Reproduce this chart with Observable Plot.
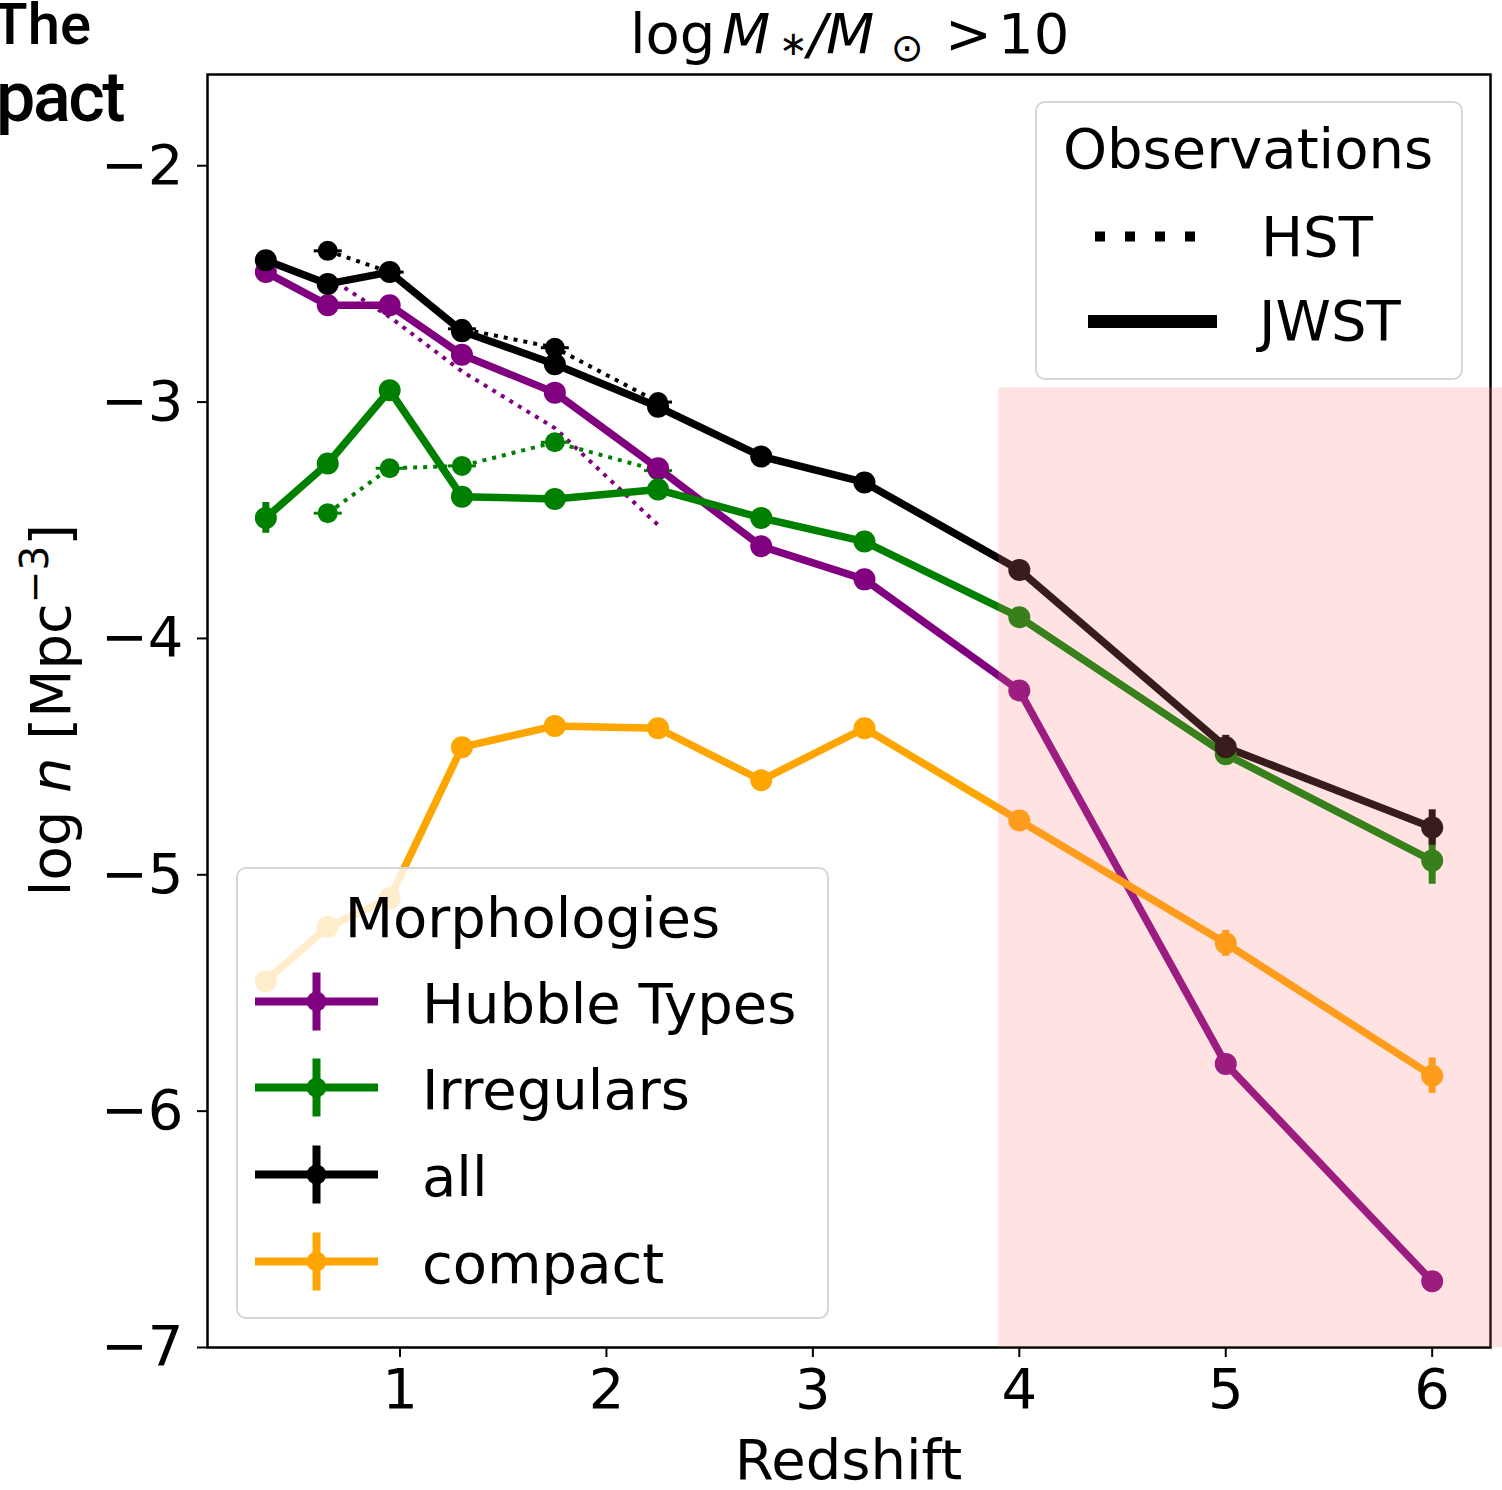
<!DOCTYPE html>
<html><head><meta charset="utf-8">
<script src="https://cdn.jsdelivr.net/npm/d3@7"></script>
<script src="https://cdn.jsdelivr.net/npm/@observablehq/plot@0.6"></script>
<style>
body{margin:0;background:#fff;overflow:hidden}
#wrap{position:relative;width:1502px;height:1490px;overflow:hidden;background:#fff}
#wrap>svg{position:absolute;left:0;top:0}
</style></head><body><div id="wrap"></div>
<script>
// ---- data ----
const redshift = [0.35, 0.65, 0.95, 1.3, 1.75, 2.25, 2.75, 3.25, 4, 5, 6];
const hubbleJWST  = [-2.45, -2.59, -2.59, -2.80, -2.96, -3.28, -3.61, -3.75, -4.22, -5.80, -6.72];
const irregJWST   = [-3.49, -3.26, -2.95, -3.40, -3.41, -3.37, -3.49, -3.59, -3.91, -4.49, -4.94];
const allJWST     = [-2.40, -2.50, -2.45, -2.70, -2.84, -3.02, -3.23, -3.34, -3.71, -4.46, -4.80];
const compactJWST = [-5.45, -5.22, -5.10, -4.46, -4.37, -4.38, -4.60, -4.38, -4.77, -5.29, -5.85];
const hubbleErr  = [0.01, 0.01, 0.01, 0.01, 0.01, 0.01, 0.01, 0.01, 0.02, 0.03, 0.03];
const irregErr   = [0.065, 0.02, 0.02, 0.01, 0.01, 0.01, 0.01, 0.01, 0.02, 0.03, 0.10];
const allErr     = [0.01, 0.01, 0.03, 0.01, 0.02, 0.01, 0.01, 0.01, 0.02, 0.05, 0.075];
const compactErr = [0.03, 0.03, 0.03, 0.02, 0.02, 0.02, 0.02, 0.02, 0.03, 0.055, 0.075];

const redshiftHST = [0.65, 0.95, 1.3, 1.75, 2.25];
const hubbleHST = [-2.47, -2.64, -2.87, -3.11, -3.52];
const irregHST  = [-3.47, -3.28, -3.27, -3.17, -3.29];
const allHST    = [-2.36, -2.45, -2.69, -2.77, -3.00];

const shadeX = [3.9, 6.4];
const shadeY = [-7, -2.94];

const xTicks = [1, 2, 3, 4, 5, 6];
const yTicks = [-7, -6, -5, -4, -3, -2];

const morphLabels = ["Hubble Types", "Irregulars", "all", "compact"];
const morphColors = ["purple", "green", "black", "orange"];
const obsLabels = ["HST", "JWST"];

// ---- tables ----
const jwstSeries = [hubbleJWST, irregJWST, allJWST, compactJWST];
const jwstErrs = [hubbleErr, irregErr, allErr, compactErr];
const jwst = jwstSeries.flatMap((ys, k) => ys.map((v, i) => ({z: redshift[i], v, e: jwstErrs[k][i], s: morphLabels[k], c: morphColors[k]})));
const hstSeries = [hubbleHST, irregHST, allHST];
const hst = hstSeries.flatMap((ys, k) => ys.map((v, i) => ({z: redshiftHST[i], v, s: morphLabels[k], c: morphColors[k], marker: k > 0})));
const hstMarked = hst.filter(d => d.marker);

const capSymbol = {draw(ctx) { ctx.moveTo(-14, 0); ctx.lineTo(14, 0); }};
const fmt = d3.format("d");

const chart = Plot.plot({
  width: 1502, height: 1490,
  marginLeft: 207, marginRight: 12, marginTop: 74, marginBottom: 143,
  style: {fontFamily: "DejaVu Sans", fontSize: "56px", background: "transparent", color: "black", overflow: "visible"},
  x: {domain: [0.0675, 6.2825]},
  y: {domain: [-7, -1.614]},
  marks: [
    Plot.line(hst, {x: "z", y: "v", z: "s", stroke: "c", strokeWidth: 4, strokeDasharray: "4,6", strokeLinecap: "butt"}),
    Plot.dot(hstMarked, {x: "z", y: "v", r: 10, fill: "c"}),
    Plot.dot(hstMarked, {x: "z", y: "v", symbol: capSymbol, stroke: "c", strokeWidth: 3, r: 10}),
    Plot.line(jwst, {x: "z", y: "v", z: "s", stroke: "c", strokeWidth: 7.5}),
    Plot.ruleX(jwst, {x: "z", y1: d => d.v - d.e, y2: d => d.v + d.e, stroke: "c", strokeWidth: 7}),
    Plot.dot(jwst, {x: "z", y: "v", r: 11, fill: "c"}),
    Plot.frame({stroke: "black", strokeWidth: 2.5}),
    Plot.rect([0], {x1: () => shadeX[0], x2: () => shadeX[1], y1: () => shadeY[0], y2: () => shadeY[1], fill: "#ff8080", fillOpacity: 0.22}),
    Plot.axisX({ticks: xTicks, tickFormat: fmt, tickSize: 10, tickPadding: 11, label: null, strokeWidth: 2}),
    Plot.axisY({ticks: yTicks, tickFormat: fmt, tickSize: 10, tickPadding: 14, label: null, strokeWidth: 2})
  ]
});
const wrap = document.getElementById("wrap");
wrap.appendChild(chart);

// ---- overlay: texts and legends ----
const ov = d3.select(wrap).append("svg")
  .attr("width", 1502).attr("height", 1490)
  .style("font-family", "DejaVu Sans").style("font-size", "56px").style("pointer-events", "none");

// cropped text from neighbouring page column
ov.append("text").attr("x", 91).attr("y", 44).attr("text-anchor", "end")
  .style("font-family", "Roboto").style("font-weight", 500).style("font-size", "58px").text("The");
ov.append("text").attr("x", 123).attr("y", 121).attr("text-anchor", "end")
  .style("font-family", "Roboto").style("font-weight", 500).style("font-size", "70px").style("letter-spacing", "-2.5px").text("Impact");

// title
const t = ov.append("text").attr("y", 53);
t.append("tspan").attr("x", 630).text("log");
t.append("tspan").attr("x", 722).style("font-style", "italic").text("M");
t.append("tspan").attr("x", 779).attr("dy", 2).style("font-size", "34px").text("∗");
t.append("tspan").attr("x", 808).attr("dy", -2).style("font-style", "italic").text("/");
t.append("tspan").attr("x", 826).style("font-style", "italic").text("M");
t.append("tspan").attr("x", 891).attr("dy", 8).style("font-size", "39px").text("⊙");
t.append("tspan").attr("x", 945).attr("dy", -8).text(">");
t.append("tspan").attr("x", 998).text("10");

// x label
ov.append("text").attr("x", 848.5).attr("y", 1479).attr("text-anchor", "middle").text("Redshift");

// y label
const yl = ov.append("text").attr("transform", "translate(70,710) rotate(-90)").attr("text-anchor", "middle");
yl.append("tspan").text("log ");
yl.append("tspan").style("font-style", "italic").text("n");
yl.append("tspan").text(" [Mpc");
yl.append("tspan").attr("dy", -22).style("font-size", "39px").text("−3");
yl.append("tspan").attr("dy", 22).text("]");

// Observations legend
ov.append("rect").attr("x", 1036).attr("y", 102).attr("width", 426).attr("height", 277).attr("rx", 9)
  .attr("fill", "white").attr("fill-opacity", 0.8).attr("stroke", "#d6d6d6").attr("stroke-width", 2);
ov.append("text").attr("x", 1248).attr("y", 168).attr("text-anchor", "middle").text("Observations");
ov.append("line").attr("x1", 1095).attr("x2", 1200).attr("y1", 236.5).attr("y2", 236.5)
  .attr("stroke", "black").attr("stroke-width", 10).attr("stroke-dasharray", "10,20");
ov.append("text").attr("x", 1261).attr("y", 256).text(obsLabels[0]);
ov.append("line").attr("x1", 1088).attr("x2", 1217).attr("y1", 321.5).attr("y2", 321.5)
  .attr("stroke", "black").attr("stroke-width", 13);
ov.append("text").attr("x", 1259).attr("y", 340).text(obsLabels[1]);

// Morphologies legend
ov.append("rect").attr("x", 237).attr("y", 868).attr("width", 591).attr("height", 450).attr("rx", 9)
  .attr("fill", "white").attr("fill-opacity", 0.8).attr("stroke", "#d6d6d6").attr("stroke-width", 2);
ov.append("text").attr("x", 532.5).attr("y", 937).attr("text-anchor", "middle").text("Morphologies");
const rowY = [1001.5, 1087.5, 1174.5, 1261.5];
morphLabels.forEach((lab, i) => {
  const y = rowY[i], c = morphColors[i];
  ov.append("line").attr("x1", 255).attr("x2", 378).attr("y1", y).attr("y2", y).attr("stroke", c).attr("stroke-width", 8);
  ov.append("line").attr("x1", 316.5).attr("x2", 316.5).attr("y1", y - 29).attr("y2", y + 29).attr("stroke", c).attr("stroke-width", 8);
  ov.append("circle").attr("cx", 316.5).attr("cy", y).attr("r", 10).attr("fill", c);
  ov.append("text").attr("x", 422).attr("y", y + 21).text(lab);
});
</script></body></html>
